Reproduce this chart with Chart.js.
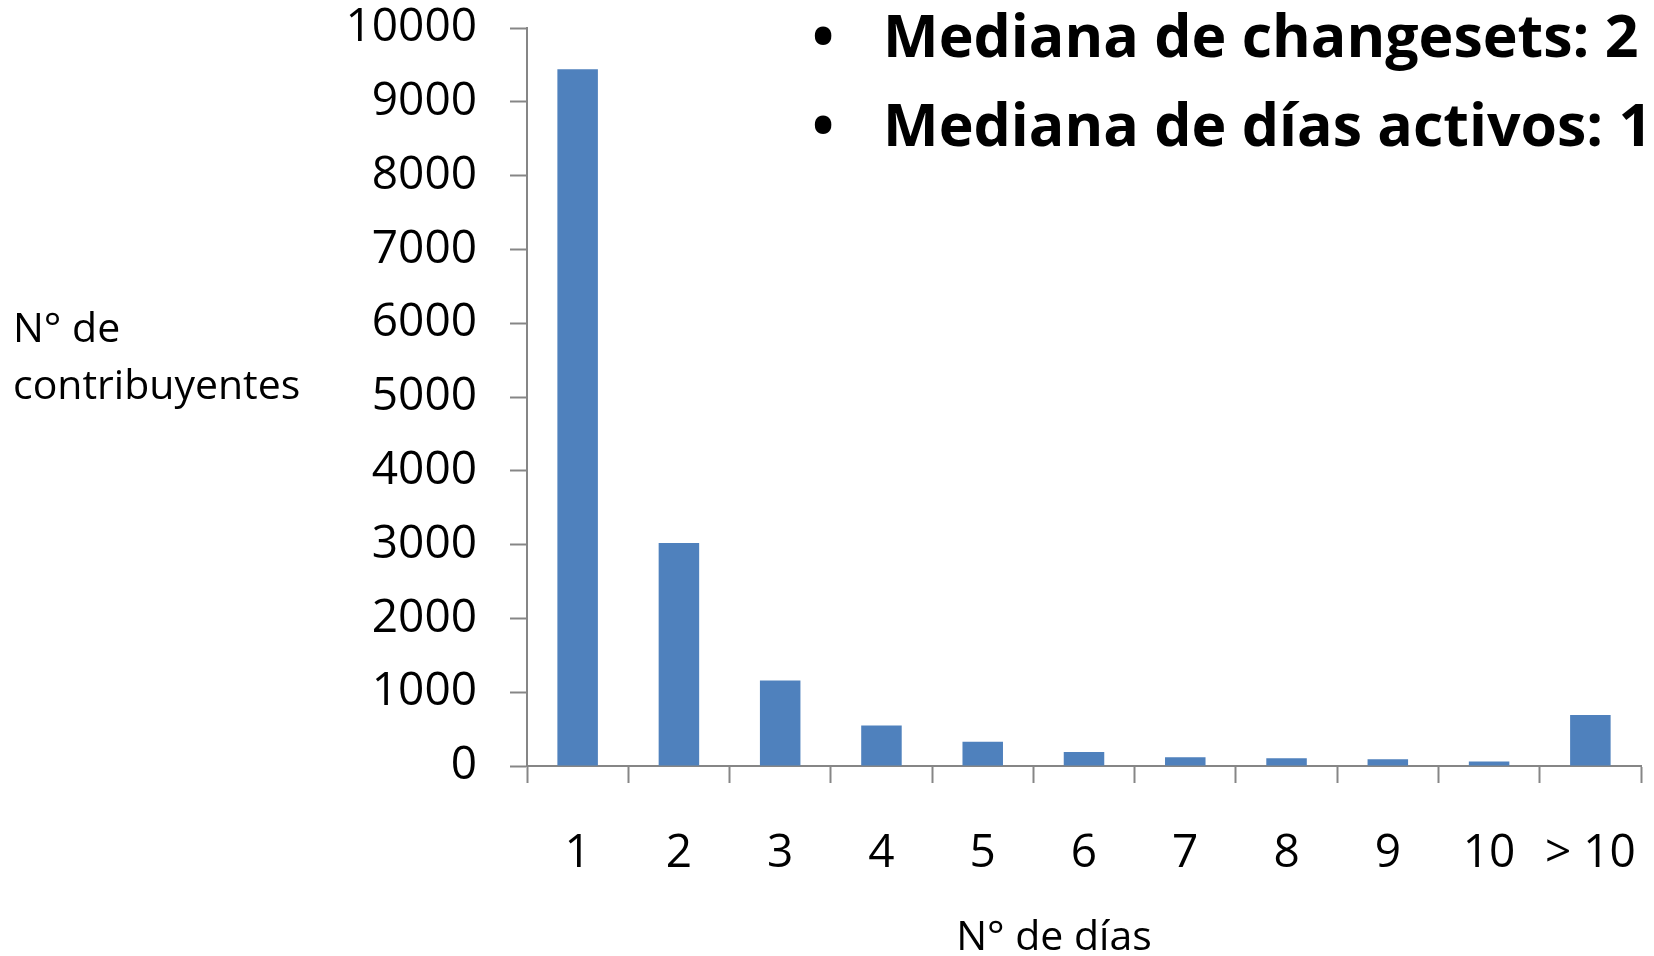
<!DOCTYPE html>
<html>
<head>
<meta charset="utf-8">
<script src="https://cdn.jsdelivr.net/npm/chart.js@4"></script>
<style>
  html, body { margin: 0; padding: 0; background: #fff; }
  #wrap { width: 1654px; height: 956px; }
</style>
</head>
<body>
<div id="wrap"><canvas id="graficoDias" width="1654" height="956"></canvas></div>
<script>
// datos del gráfico
const dias = ['1', '2', '3', '4', '5', '6', '7', '8', '9', '10', '> 10'];
const contribuyentes = [9440, 3020, 1160, 550, 330, 190, 120, 105, 90, 60, 690];
const ticksY = [0, 1000, 2000, 3000, 4000, 5000, 6000, 7000, 8000, 9000, 10000];
const notas = ['Mediana de changesets: 2', 'Mediana de días activos: 1'];
const tituloY = ['N° de', 'contribuyentes'];
const tituloX = 'N° de días';

const fuente = '"Open Sans", "Noto Sans", sans-serif';
const gris = '#868686';

// textos fuera del área del gráfico
const textosExtra = {
    id: 'textosExtra',
    afterDraw(chart) {
        const ctx = chart.ctx;
        ctx.save();
        ctx.fillStyle = '#000';
        ctx.textBaseline = 'alphabetic';

        // título del eje Y en dos líneas, horizontal
        ctx.font = '41px ' + fuente;
        ctx.textAlign = 'left';
        ctx.fillText(tituloY[0], 13, 342);
        ctx.fillText(tituloY[1], 13, 399);

        // título del eje X (desplazado a la izquierda como en el original)
        ctx.textAlign = 'center';
        ctx.fillText(tituloX, 1054, 950);

        // notas con viñetas
        ctx.font = 'bold 59px ' + fuente;
        notas.forEach((t, i) => {
            const y = 57 + i * 89;
            ctx.textAlign = 'center';
            ctx.fillText('•', 823, y);
            ctx.textAlign = 'left';
            ctx.fillText(t, 883, y);
        });
        ctx.restore();
    }
};

const ctx = document.getElementById('graficoDias').getContext('2d');
window.graficoDias = new Chart(ctx, {
    type: 'bar',
    data: {
        labels: dias,
        datasets: [{
            data: contribuyentes,
            backgroundColor: '#4F81BD',
            borderWidth: 0,
            barPercentage: 0.4,
            categoryPercentage: 1.0
        }]
    },
    options: {
        responsive: false,
        animation: false,
        layout: { padding: { top: 28, right: 13, left: 0, bottom: 0 } },
        plugins: {
            legend: { display: false },
            tooltip: { enabled: false }
        },
        scales: {
            x: {
                offset: true,
                grid: {
                    offset: true,
                    drawOnChartArea: false,
                    drawTicks: true,
                    tickLength: 17,
                    tickColor: gris,
                    tickWidth: 2
                },
                border: { color: gris, width: 2 },
                ticks: {
                    color: '#000',
                    font: { family: fuente, size: 46 },
                    padding: 43,
                    maxRotation: 0,
                    autoSkip: false
                },
                afterFit(scale) {
                    scale.height = 190;
                    scale.paddingLeft = 0;
                    scale.paddingRight = 0;
                }
            },
            y: {
                min: 0,
                max: 10000,
                afterBuildTicks(scale) {
                    scale.ticks = ticksY.map(v => ({ value: v }));
                },
                grid: {
                    drawOnChartArea: false,
                    drawTicks: true,
                    tickLength: 17,
                    tickColor: gris,
                    tickWidth: 2
                },
                border: { color: gris, width: 2 },
                ticks: {
                    color: '#000',
                    font: { family: fuente, size: 46 },
                    padding: 33,
                    callback: v => String(v)
                },
                afterFit(scale) {
                    scale.width = 527;
                    scale.paddingTop = 0;
                    scale.paddingBottom = 0;
                }
            }
        }
    },
    plugins: [textosExtra]
});
</script>
</body>
</html>
